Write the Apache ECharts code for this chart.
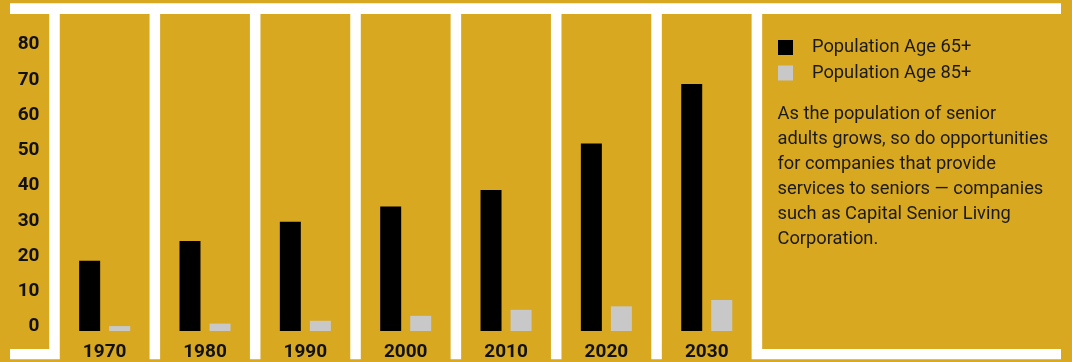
<!DOCTYPE html>
<html>
<head>
<meta charset="utf-8">
<script src="https://cdn.jsdelivr.net/npm/echarts@6/dist/echarts.min.js"></script>
<style>
html,body{margin:0;padding:0;background:#D8A820;}
#c{width:1072px;height:362px;}
</style>
</head>
<body>
<div id="c"></div>
<script>
const years = ['1970', '1980', '1990', '2000', '2010', '2020', '2030'];
const age65 = [19.9, 25.5, 31.0, 35.3, 40.0, 53.2, 70.1];
const age85 = [1.4, 2.1, 2.9, 4.3, 6.0, 7.0, 8.8];
const seriesNames = ['Population Age 65+', 'Population Age 85+'];
const yMin = 0, yMax = 80, yStep = 10;
const noteLines = [
  'As the population of senior',
  'adults grows, so do opportunities',
  'for companies that provide',
  'services to seniors \u2014 companies',
  'such as Capital Senior Living',
  'Corporation.'
];

const GOLD = '#D8A820';
const FONT = "Roboto, 'DejaVu Sans Condensed', sans-serif";

const chart = echarts.init(document.getElementById('c'), null, {renderer: 'canvas'});

const option = {
  backgroundColor: GOLD,
  animation: false,
  grid: {left: 54.5, width: 702.4, top: 49, height: 284.3},
  legend: {
    orient: 'vertical',
    left: 778, top: 38.5,
    padding: 0,
    itemWidth: 15, itemHeight: 15, itemGap: 7.5,
    icon: 'rect',
    textStyle: {fontFamily: FONT, fontSize: 18.3, color: '#1a1a1a', padding: [0, 0, 0, 14]},
    data: seriesNames
  },
  xAxis: {
    type: 'category',
    data: years,
    axisLine: {show: false},
    axisTick: {show: false},
    axisLabel: {fontFamily: FONT, fontWeight: 'bold', fontSize: 19, color: '#111', margin: 12}
  },
  yAxis: {
    type: 'value',
    min: yMin, max: yMax, interval: yStep,
    splitLine: {show: false},
    axisLine: {show: false},
    axisTick: {show: false},
    axisLabel: {fontFamily: FONT, fontWeight: 'bold', fontSize: 19, color: '#111', margin: 15,
                verticalAlign: 'bottom', lineHeight: 9}
  },
  series: [
    {name: seriesNames[0], type: 'bar', data: age65, barWidth: 21, barGap: '43%',
     itemStyle: {color: '#000000'}, z: 5},
    {name: seriesNames[1], type: 'bar', data: age85, barWidth: 21,
     itemStyle: {color: '#C8C8C8'}, z: 5}
  ]
};
chart.setOption(option);

// decorative frame and panels aligned to the category bands
const xs = years.map(y => chart.convertToPixel({xAxisIndex: 0}, y));
const step = xs[1] - xs[0];
const panelW = 89.8;
const stripe = step - panelW;
const els = [];
els.push({type: 'rect', z: -10, shape: {x: 10, y: 3.3, width: 1051, height: 356}, style: {fill: '#ffffff'}, silent: true});
const firstLeft = xs[0] - panelW / 2;
els.push({type: 'rect', z: -9, shape: {x: 0, y: 14, width: firstLeft - stripe, height: 335}, style: {fill: GOLD}, silent: true});
xs.forEach(cx => {
  els.push({type: 'rect', z: -9, shape: {x: cx - panelW / 2, y: 14, width: panelW, height: 348}, style: {fill: GOLD}, silent: true});
});
const lastRight = xs[xs.length - 1] + panelW / 2;
els.push({type: 'rect', z: -9, shape: {x: lastRight + stripe, y: 14, width: 1072 - lastRight - stripe, height: 335}, style: {fill: GOLD}, silent: true});
els.push({type: 'text', z: 10, style: {x: 777.5, y: 102, text: noteLines.join('\n'), fontFamily: FONT, fontSize: 18.3, lineHeight: 25, fill: '#1a1a1a'}, silent: true});
chart.setOption({graphic: {elements: els}});
</script>
</body>
</html>
